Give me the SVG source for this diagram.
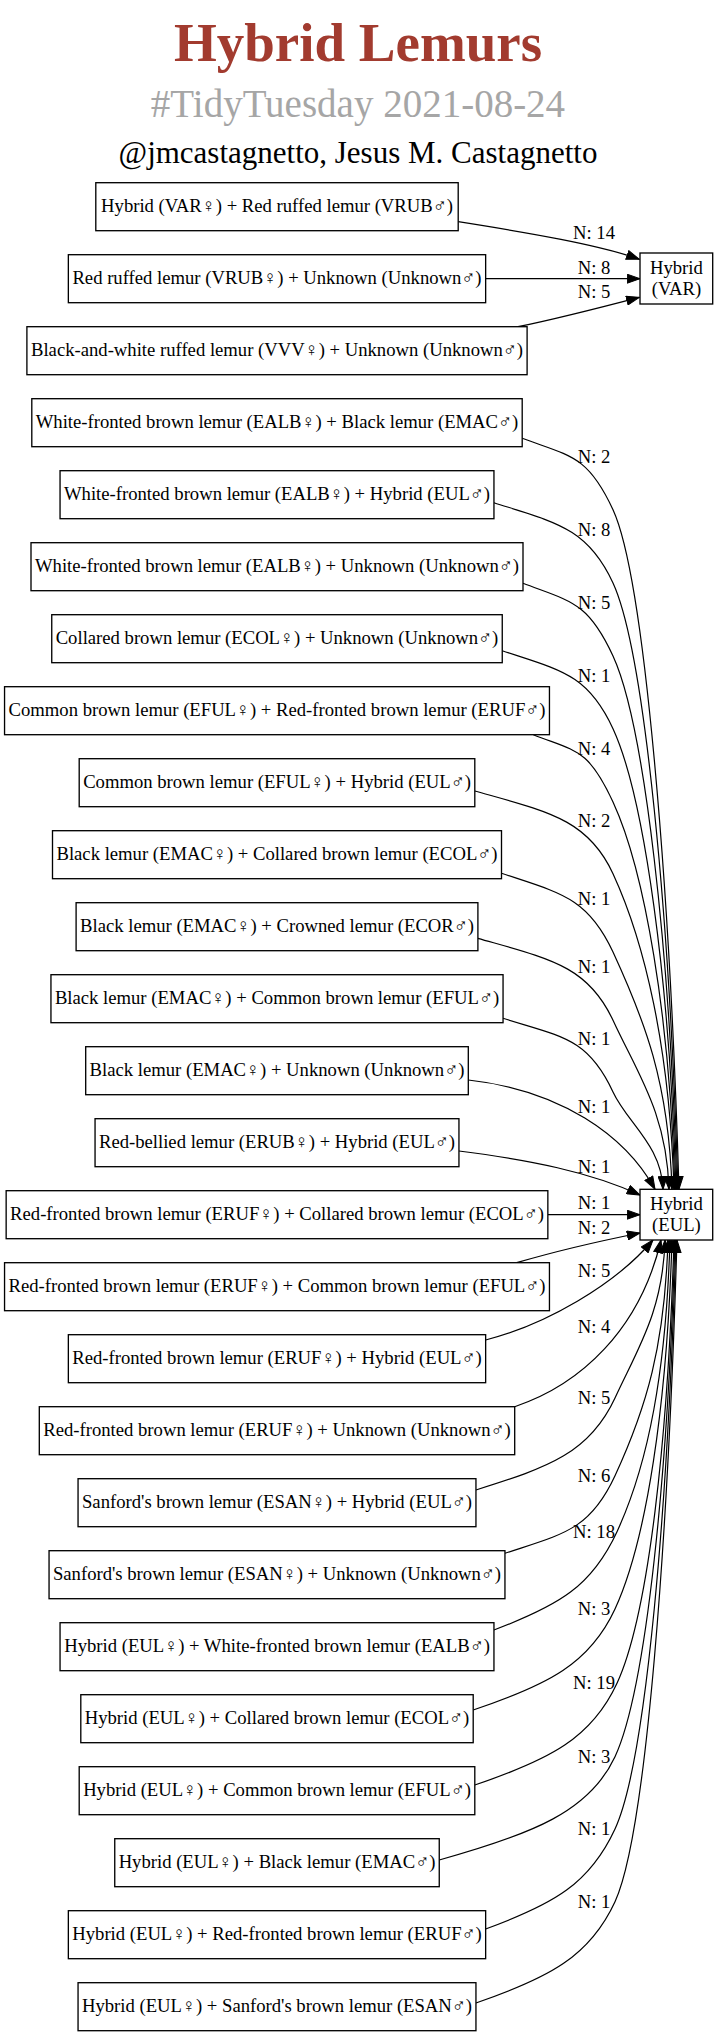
<svg xmlns="http://www.w3.org/2000/svg" width="719" height="2036" viewBox="0 0 719 2036">
<defs>
<style>
.bg{fill:#ffffff}
.box{fill:#ffffff;stroke:#000000;stroke-width:1.33}
.t{font-family:'Liberation Serif','Times New Roman',serif;font-size:18.67px;fill:#000000;text-anchor:middle}
.e{fill:none;stroke:#000000;stroke-width:1.2;marker-end:url(#ah)}
.lbl{font-family:'Liberation Serif','Times New Roman',serif;font-size:18.67px;fill:#000000;text-anchor:middle}
.title{font-family:'Liberation Serif','Times New Roman',serif;font-weight:bold;font-size:55px;fill:#A23B2F;text-anchor:middle}
.sub{font-family:'Liberation Serif','Times New Roman',serif;font-size:39px;fill:#A6A6A6;text-anchor:middle}
.auth{font-family:'Liberation Serif','Times New Roman',serif;font-size:31px;fill:#000000;text-anchor:middle}
</style>
<marker id="ah" markerUnits="userSpaceOnUse" viewBox="0 0 14 10" markerWidth="14" markerHeight="10" refX="13.3" refY="5" orient="auto">
<path d="M0.5,0.5 L13.3,5 L0.5,9.5 Z" fill="#000000" stroke="#000000" stroke-width="1"/>
</marker>
</defs>
<rect class="bg" x="0" y="0" width="719" height="2036"/>
<g id="title">
<text class="title" x="358" y="61">Hybrid Lemurs</text>
<text class="sub" x="358" y="117">#TidyTuesday 2021-08-24</text>
<text class="auth" x="358" y="163">@jmcastagnetto, Jesus M. Castagnetto</text>
</g>
<g id="connectors">
<g id="e0"><path class="e" d="M458.2,221.7 C530,233 600,245 639.3,259.3"/><text class="lbl" x="594" y="239">N: 14</text></g>
<g id="e1"><path class="e" d="M485.65,278.7 L640,278.7"/><text class="lbl" x="594" y="274">N: 8</text></g>
<g id="e2"><path class="e" d="M518,326.7 C560,318 610,305 639.3,297.3"/><text class="lbl" x="594" y="298.3">N: 5</text></g>
<g id="e3"><path class="e" d="M522.2,438.3 C570.3,456.2 587.8,455.1 613,509.7 C644.5,577.95 669.8,883.5 679,1189.3"/><text class="lbl" x="594" y="462.7">N: 2</text></g>
<g id="e4"><path class="e" d="M493.95,502.7 C557,522.8 587.8,528.4 613,583 C644.5,651.25 669.8,916.5 678,1189.3"/><text class="lbl" x="594" y="535.5">N: 8</text></g>
<g id="e5"><path class="e" d="M523,583.3 C570.7,601.5 587.8,601.4 613,656 C644.5,724.25 669.8,949.3 677,1189.3"/><text class="lbl" x="594" y="609">N: 5</text></g>
<g id="e6"><path class="e" d="M502.25,650.7 C560.9,670.2 587.8,674.1 613,728.7 C644.5,796.95 669.8,982 676,1189.3"/><text class="lbl" x="594" y="681.5">N: 1</text></g>
<g id="e7"><path class="e" d="M533.3,734.7 C575.5,751.5 587.8,747.4 613,802 C644.5,870.25 669.8,1015 675,1189.3"/><text class="lbl" x="594" y="754.5">N: 4</text></g>
<g id="e8"><path class="e" d="M474.8,791 C548,811.7 587.8,819.1 613,873.7 C644.5,941.95 669.7,1047.3 674,1189.3"/><text class="lbl" x="594" y="826.7">N: 2</text></g>
<g id="e9"><path class="e" d="M501.5,873.3 C560.6,893 587.8,897.4 613,952 C644.5,1020.25 668.8,1082.5 672,1189.3"/><text class="lbl" x="594" y="905">N: 1</text></g>
<g id="e10"><path class="e" d="M477.9,938.3 C549.5,958.8 587.8,965.7 613,1020.3 C637.8,1074.1 666.7,1113.3 669,1189.3"/><text class="lbl" x="594" y="973.3">N: 1</text></g>
<g id="e11"><path class="e" d="M503.05,1018.3 C561.3,1036.7 587.8,1037.4 613,1092 C627.3,1123 661.7,1145.5 663,1189.3"/><text class="lbl" x="594" y="1045">N: 1</text></g>
<g id="e12"><path class="e" d="M468.3,1080 C560,1090 625,1135 655,1189.3"/><text class="lbl" x="594" y="1112.7">N: 1</text></g>
<g id="e13"><path class="e" d="M458.95,1151 C530,1160 590,1172 640,1195"/><text class="lbl" x="594" y="1173.3">N: 1</text></g>
<g id="e14"><path class="e" d="M547.85,1214.7 L640,1214.7"/><text class="lbl" x="594" y="1209.3">N: 1</text></g>
<g id="e15"><path class="e" d="M516.7,1262.7 C560,1250 605,1240 640,1233"/><text class="lbl" x="594" y="1234">N: 2</text></g>
<g id="e16"><path class="e" d="M485.65,1340 C545,1325 615,1285 653,1240"/><text class="lbl" x="594" y="1276.7">N: 5</text></g>
<g id="e17"><path class="e" d="M514.7,1406.7 C580,1385 640,1330 661,1240"/><text class="lbl" x="594" y="1333.3">N: 4</text></g>
<g id="e18"><path class="e" d="M475.95,1490 C549.6,1467 589.8,1452.6 615,1398 C638.2,1347.7 662.9,1311.1 665,1240"/><text class="lbl" x="594" y="1404">N: 5</text></g>
<g id="e19"><path class="e" d="M504.95,1553.3 C563.3,1533.9 589.8,1530.3 615,1475.7 C646.5,1407.45 664.8,1346.1 668,1240"/><text class="lbl" x="594" y="1481.7">N: 6</text></g>
<g id="e20"><path class="e" d="M493.95,1630 C559.2,1605.4 591.8,1586.3 617,1531.7 C648.5,1463.45 666.1,1371.3 670,1240"/><text class="lbl" x="594" y="1537.7">N: 18</text></g>
<g id="e21"><path class="e" d="M473.2,1710 C548.4,1684.75 589.8,1663.6 615,1609 C646.5,1540.75 667,1406 672,1240"/><text class="lbl" x="594" y="1615">N: 3</text></g>
<g id="e22"><path class="e" d="M474.8,1785 C550.2,1759.6 591.8,1737.9 617,1683.3 C648.5,1615.05 668,1439.5 674,1240"/><text class="lbl" x="594" y="1689.3">N: 19</text></g>
<g id="e23"><path class="e" d="M439.25,1860 C532.4,1834.2 589.8,1811.3 615,1756.7 C646.5,1688.45 668,1472.5 675,1240"/><text class="lbl" x="594" y="1762.7">N: 3</text></g>
<g id="e24"><path class="e" d="M485.65,1929 C554.2,1904 589.8,1883.6 615,1829 C646.5,1760.75 668,1505 676,1240"/><text class="lbl" x="594" y="1835">N: 1</text></g>
<g id="e25"><path class="e" d="M475.95,2003 C549.6,1977.7 589.8,1956.3 615,1901.7 C646.5,1833.45 668.1,1537.8 677,1240"/><text class="lbl" x="594" y="1907.7">N: 1</text></g>
</g>
<g id="node-VAR"><rect class="box" x="640" y="253" width="72.7" height="51"/><text class="t" x="676.4" y="274">Hybrid</text><text class="t" x="676.4" y="295">(VAR)</text></g>
<g id="node-EUL"><rect class="box" x="640" y="1189.3" width="72.7" height="50.7"/><text class="t" x="676.4" y="1210">Hybrid</text><text class="t" x="676.4" y="1230.7">(EUL)</text></g>
<g id="n0"><rect class="box" x="95.8" y="182.7" width="362.4" height="48"/><text class="t" x="277" y="211.7">Hybrid (VAR♀) + Red ruffed lemur (VRUB♂)</text></g>
<g id="n1"><rect class="box" x="68.35" y="254.7" width="417.3" height="48"/><text class="t" x="277" y="283.7">Red ruffed lemur (VRUB♀) + Unknown (Unknown♂)</text></g>
<g id="n2"><rect class="box" x="26.9" y="326.7" width="500.2" height="48"/><text class="t" x="277" y="355.7">Black-and-white ruffed lemur (VVV♀) + Unknown (Unknown♂)</text></g>
<g id="n3"><rect class="box" x="31.8" y="398.7" width="490.4" height="48"/><text class="t" x="277" y="427.7">White-fronted brown lemur (EALB♀) + Black lemur (EMAC♂)</text></g>
<g id="n4"><rect class="box" x="60.05" y="470.7" width="433.9" height="48"/><text class="t" x="277" y="499.7">White-fronted brown lemur (EALB♀) + Hybrid (EUL♂)</text></g>
<g id="n5"><rect class="box" x="31" y="542.7" width="492" height="48"/><text class="t" x="277" y="571.7">White-fronted brown lemur (EALB♀) + Unknown (Unknown♂)</text></g>
<g id="n6"><rect class="box" x="51.75" y="614.7" width="450.5" height="48"/><text class="t" x="277" y="643.7">Collared brown lemur (ECOL♀) + Unknown (Unknown♂)</text></g>
<g id="n7"><rect class="box" x="4.55" y="686.7" width="544.9" height="48"/><text class="t" x="277" y="715.7">Common brown lemur (EFUL♀) + Red-fronted brown lemur (ERUF♂)</text></g>
<g id="n8"><rect class="box" x="79.2" y="758.7" width="395.6" height="48"/><text class="t" x="277" y="787.7">Common brown lemur (EFUL♀) + Hybrid (EUL♂)</text></g>
<g id="n9"><rect class="box" x="52.5" y="830.7" width="449" height="48"/><text class="t" x="277" y="859.7">Black lemur (EMAC♀) + Collared brown lemur (ECOL♂)</text></g>
<g id="n10"><rect class="box" x="76.1" y="902.7" width="401.8" height="48"/><text class="t" x="277" y="931.7">Black lemur (EMAC♀) + Crowned lemur (ECOR♂)</text></g>
<g id="n11"><rect class="box" x="50.95" y="974.7" width="452.1" height="48"/><text class="t" x="277" y="1003.7">Black lemur (EMAC♀) + Common brown lemur (EFUL♂)</text></g>
<g id="n12"><rect class="box" x="85.7" y="1046.7" width="382.6" height="48"/><text class="t" x="277" y="1075.7">Black lemur (EMAC♀) + Unknown (Unknown♂)</text></g>
<g id="n13"><rect class="box" x="95.05" y="1118.7" width="363.9" height="48"/><text class="t" x="277" y="1147.7">Red-bellied lemur (ERUB♀) + Hybrid (EUL♂)</text></g>
<g id="n14"><rect class="box" x="6.15" y="1190.7" width="541.7" height="48"/><text class="t" x="277" y="1219.7">Red-fronted brown lemur (ERUF♀) + Collared brown lemur (ECOL♂)</text></g>
<g id="n15"><rect class="box" x="4.55" y="1262.7" width="544.9" height="48"/><text class="t" x="277" y="1291.7">Red-fronted brown lemur (ERUF♀) + Common brown lemur (EFUL♂)</text></g>
<g id="n16"><rect class="box" x="68.35" y="1334.7" width="417.3" height="48"/><text class="t" x="277" y="1363.7">Red-fronted brown lemur (ERUF♀) + Hybrid (EUL♂)</text></g>
<g id="n17"><rect class="box" x="39.3" y="1406.7" width="475.4" height="48"/><text class="t" x="277" y="1435.7">Red-fronted brown lemur (ERUF♀) + Unknown (Unknown♂)</text></g>
<g id="n18"><rect class="box" x="78.05" y="1478.7" width="397.9" height="48"/><text class="t" x="277" y="1507.7">Sanford's brown lemur (ESAN♀) + Hybrid (EUL♂)</text></g>
<g id="n19"><rect class="box" x="49.05" y="1550.7" width="455.9" height="48"/><text class="t" x="277" y="1579.7">Sanford's brown lemur (ESAN♀) + Unknown (Unknown♂)</text></g>
<g id="n20"><rect class="box" x="60.05" y="1622.7" width="433.9" height="48"/><text class="t" x="277" y="1651.7">Hybrid (EUL♀) + White-fronted brown lemur (EALB♂)</text></g>
<g id="n21"><rect class="box" x="80.8" y="1694.7" width="392.4" height="48"/><text class="t" x="277" y="1723.7">Hybrid (EUL♀) + Collared brown lemur (ECOL♂)</text></g>
<g id="n22"><rect class="box" x="79.2" y="1766.7" width="395.6" height="48"/><text class="t" x="277" y="1795.7">Hybrid (EUL♀) + Common brown lemur (EFUL♂)</text></g>
<g id="n23"><rect class="box" x="114.75" y="1838.7" width="324.5" height="48"/><text class="t" x="277" y="1867.7">Hybrid (EUL♀) + Black lemur (EMAC♂)</text></g>
<g id="n24"><rect class="box" x="68.35" y="1910.7" width="417.3" height="48"/><text class="t" x="277" y="1939.7">Hybrid (EUL♀) + Red-fronted brown lemur (ERUF♂)</text></g>
<g id="n25"><rect class="box" x="78.05" y="1982.7" width="397.9" height="48"/><text class="t" x="277" y="2011.7">Hybrid (EUL♀) + Sanford's brown lemur (ESAN♂)</text></g>
</svg>
